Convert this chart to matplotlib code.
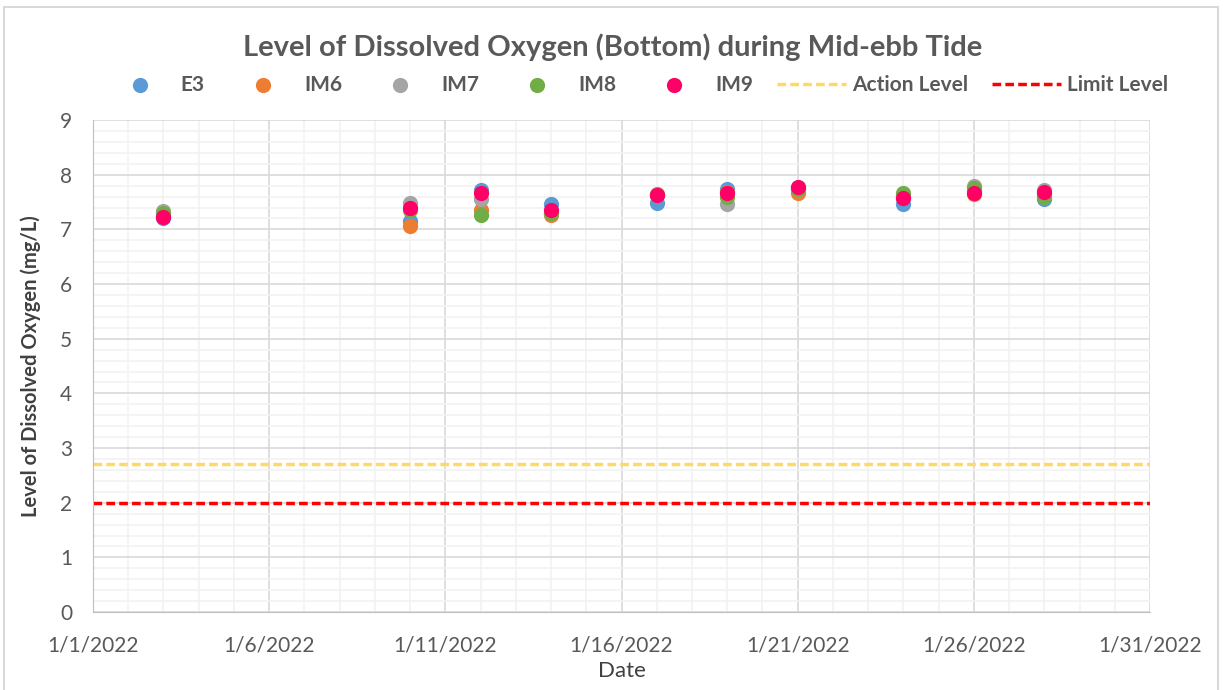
import datetime as dt
import matplotlib
matplotlib.use('Agg')
import matplotlib.pyplot as plt
import matplotlib.dates as mdates
from matplotlib.patches import Rectangle
from matplotlib.ticker import MultipleLocator, FuncFormatter

# Sampling dates and dissolved oxygen readings (mg/L)
dates = ['2022-01-03', '2022-01-10', '2022-01-12', '2022-01-14', '2022-01-17',
         '2022-01-19', '2022-01-21', '2022-01-24', '2022-01-26', '2022-01-28']
e3 = [7.20, 7.16, 7.72, 7.47, 7.48, 7.73, 7.76, 7.47, 7.70, 7.56]
im6 = [7.25, 7.07, 7.36, 7.27, 7.64, 7.68, 7.67, 7.60, 7.64, 7.65]
im7 = [7.33, 7.48, 7.55, 7.30, 7.62, 7.47, 7.73, 7.62, 7.80, 7.72]
im8 = [7.30, 7.36, 7.26, 7.30, 7.62, 7.60, 7.74, 7.66, 7.75, 7.60]
im9 = [7.22, 7.39, 7.67, 7.35, 7.63, 7.67, 7.78, 7.58, 7.67, 7.68]
action_level = 2.7
limit_level = 2.0

series = [('E3', e3, '#5B9BD5'), ('IM6', im6, '#ED7D31'), ('IM7', im7, '#A5A5A5'),
          ('IM8', im8, '#70AD47'), ('IM9', im9, '#FF0066')]

plt.rcParams['font.family'] = ['Lato', 'DejaVu Sans']

x = [dt.datetime.strptime(d, '%Y-%m-%d') for d in dates]
start = dt.datetime(2022, 1, 1)
end = dt.datetime(2022, 1, 31)


def date_label(v, pos):
    d = mdates.num2date(v)
    return '{}/{}/{}'.format(d.month, d.day, d.year)


fig = plt.figure(figsize=(12.25, 6.9), dpi=100)
ax = fig.add_axes([0.0759, 0.113, 0.8629, 0.713])

for name, vals, color in series:
    ax.scatter(x, vals, s=120, color=color, label=name, zorder=3, linewidths=0)

ax.plot([start, end], [action_level, action_level], color='#FFD966', lw=2.5,
        ls=(0, (2.5, 1.2)), label='Action Level', zorder=2)
ax.plot([start, end], [limit_level, limit_level], color='#FF0000', lw=2.5,
        ls=(0, (2.5, 1.2)), label='Limit Level', zorder=2)

ax.set_xlim(start, end)
ax.set_ylim(0, 9)
ax.xaxis.set_major_locator(mdates.DayLocator(bymonthday=[1, 6, 11, 16, 21, 26, 31]))
ax.xaxis.set_minor_locator(mdates.DayLocator())
ax.xaxis.set_major_formatter(FuncFormatter(date_label))
ax.yaxis.set_major_locator(MultipleLocator(1))
ax.yaxis.set_minor_locator(MultipleLocator(0.2))

ax.grid(which='major', color='#D9D9D9', lw=1.2)
ax.grid(which='minor', color='#F2F2F2', lw=1.2)
ax.set_axisbelow(True)
ax.tick_params(which='both', length=0)
ax.tick_params(axis='both', labelsize=15, labelcolor='#595959')
ax.tick_params(axis='x', pad=17)
ax.tick_params(axis='y', pad=15)
for side in ['top', 'right']:
    ax.spines[side].set_visible(False)
for side in ['left', 'bottom']:
    ax.spines[side].set_color('#BFBFBF')

ax.set_xlabel('Date', fontsize=16, color='#404040', labelpad=4)
ax.set_ylabel('Level of Dissolved Oxygen (mg/L)', fontsize=14.5, fontweight='bold',
              color='#404040', labelpad=14)

fig.text(0.5, 0.932, 'Level of Dissolved Oxygen (Bottom) during Mid-ebb Tide',
         ha='center', va='center', fontsize=21, fontweight='bold', color='#595959')

fig.legend(loc='center', bbox_to_anchor=(0.52, 0.877), ncol=7, frameon=False,
           labelcolor='#595959', handlelength=3.3, handletextpad=0.3,
           columnspacing=1.15, prop={'weight': 'bold', 'size': 15})

# light border around the chart area
fig.patches.append(Rectangle((0.003, -0.01), 0.991, 1.0, transform=fig.transFigure,
                             fill=False, edgecolor='#D9D9D9', lw=1.5))

fig.savefig('out.png', dpi=100)
